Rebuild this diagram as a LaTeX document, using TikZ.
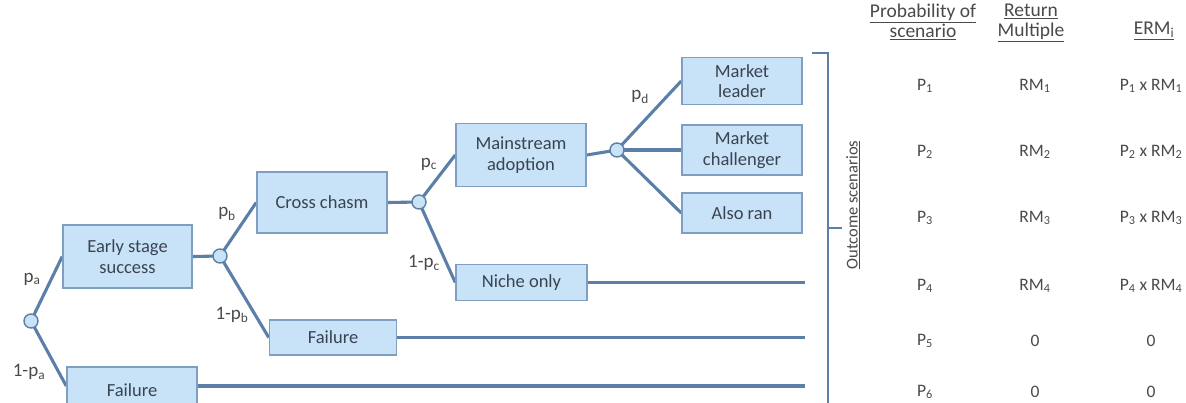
\documentclass[tikz,border=0pt]{standalone}
\usepackage{fontspec}
\setmainfont{Carlito}
\usetikzlibrary{backgrounds}
\definecolor{lineblue}{HTML}{5B7FA6}
\definecolor{boxfill}{HTML}{C8E2F8}
\definecolor{boxedge}{HTML}{7E9EC2}
\definecolor{txt}{HTML}{3A4450}
\definecolor{lbl}{HTML}{4A4A4A}
\begin{document}
\begin{tikzpicture}[x=1pt,y=-1pt,
  stbox/.style={draw=boxedge,line width=1.5pt,fill=boxfill,text=txt,
    font=\fontsize{18.5}{20.5}\selectfont,align=center,inner sep=0pt},
  chance/.style={circle,draw=lineblue,line width=1.4pt,fill=boxfill,minimum size=14pt,inner sep=0pt},
  conn/.style={draw=lineblue,line width=3.1pt},
  plbl/.style={text=lbl,font=\fontsize{19}{21}\selectfont,inner sep=0pt},
  tbl/.style={text=lbl,font=\fontsize{17.5}{20}\selectfont,inner sep=0pt,align=center},
  hdr/.style={text=lbl,font=\fontsize{19.5}{20}\selectfont,inner sep=0pt,align=center}]
\clip (0,0) rectangle (1186,402);
% boxes
\node[stbox,minimum width=129pt,minimum height=63pt] (ess) at (127.5,256.5) {Early stage\\success};
\node[stbox,minimum width=130pt,minimum height=46pt] (f1) at (132,390) {Failure};
\node[stbox,minimum width=130pt,minimum height=61pt] (cc) at (322,202.5) {Cross chasm};
\node[stbox,minimum width=127pt,minimum height=35pt] (f2) at (333,337.5) {Failure};
\node[stbox,minimum width=130pt,minimum height=63pt] (ma) at (521,155) {Mainstream\\adoption};
\node[stbox,minimum width=131pt,minimum height=36pt] (no) at (521.5,282.5) {Niche only};
\node[stbox,minimum width=120pt,minimum height=47pt] (ml) at (742,81) {Market\\leader};
\node[stbox,minimum width=120pt,minimum height=50pt] (mc) at (742,150) {Market\\challenger};
\node[stbox,minimum width=120pt,minimum height=40pt] (ar) at (742,213) {Also ran};
% chance nodes
\node[chance] (c1) at (31,321) {};
\node[chance] (c2) at (220,256) {};
\node[chance] (c3) at (419,202) {};
\node[chance] (c4) at (617,150) {};
% line ends
\coordinate (e4) at (805,282.5);
\coordinate (e5) at (805,337.5);
\coordinate (e6) at (805,386);
\begin{scope}[on background layer]
\fill[white] (0,0) rectangle (1186,402);
\draw[conn] (c1.center) -- (ess.west);
\draw[conn] (c1.center) -- (f1.west |- e6);
\draw[conn] (ess.east) -- (c2.center);
\draw[conn] (c2.center) -- (cc.west);
\draw[conn] (c2.center) -- (f2.west);
\draw[conn] (cc.east) -- (c3.center);
\draw[conn] (c3.center) -- (ma.west);
\draw[conn] (c3.center) -- (no.west);
\draw[conn] (ma.east) -- (c4.center);
\draw[conn] (c4.center) -- (ml.west);
\draw[conn] (c4.center) -- (mc.west);
\draw[conn] (c4.center) -- (ar.west);
\draw[conn] (no.east) -- (e4);
\draw[conn] (f2.east) -- (e5);
\draw[conn] (f1.east |- e6) -- (e6);
\end{scope}
% probability labels
\node[plbl] (la) at (32,279) {p\textsubscript{a}};
\node[plbl] (lna) at (29,372) {1-p\textsubscript{a}};
\node[plbl] (lb) at (227,214) {p\textsubscript{b}};
\node[plbl] (lnb) at (232,315) {1-p\textsubscript{b}};
\node[plbl] (lc) at (429,164) {p\textsubscript{c}};
\node[plbl] (lnc) at (424,263) {1-p\textsubscript{c}};
\node[plbl] (ld) at (640,97) {p\textsubscript{d}};
% bracket
\coordinate (bt) at (812,53);
\coordinate (bc) at (828,53);
\coordinate (bb) at (828,420);
\coordinate (bm) at (828,228);
\coordinate (bmt) at (842,228);
\draw[draw=lineblue,line width=2pt] (bt) -- (bc) -- (bb);
\draw[draw=lineblue,line width=2pt] (bm) -- (bmt);
\node[tbl,rotate=90,font=\fontsize{16.5}{18}\selectfont] (os) at (853,205) {\underline{Outcome scenarios}};
% table headers
\node[hdr] (h1) at (923,22) {\underline{Probability of}\\\underline{scenario}};
\node[hdr] (h2) at (1031,23) {\underline{Return}\\\underline{Multiple}};
\node[hdr] (h3) at (1154,31) {\underline{ERM\textsubscript{i}}};
% rows
\node[tbl] (p1) at (925,86) {P\textsubscript{1}};
\node[tbl] (r1) at (1035,86) {RM\textsubscript{1}};
\node[tbl] (x1) at (1151,86) {P\textsubscript{1} x RM\textsubscript{1}};
\node[tbl] (p2) at (925,152) {P\textsubscript{2}};
\node[tbl] (r2) at (1035,152) {RM\textsubscript{2}};
\node[tbl] (x2) at (1151,152) {P\textsubscript{2} x RM\textsubscript{2}};
\node[tbl] (p3) at (925,218) {P\textsubscript{3}};
\node[tbl] (r3) at (1035,218) {RM\textsubscript{3}};
\node[tbl] (x3) at (1151,218) {P\textsubscript{3} x RM\textsubscript{3}};
\node[tbl] (p4) at (925,286) {P\textsubscript{4}};
\node[tbl] (r4) at (1035,286) {RM\textsubscript{4}};
\node[tbl] (x4) at (1151,286) {P\textsubscript{4} x RM\textsubscript{4}};
\node[tbl] (p5) at (925,341) {P\textsubscript{5}};
\node[tbl] (r5) at (1035,341) {0};
\node[tbl] (x5) at (1151,341) {0};
\node[tbl] (p6) at (925,392) {P\textsubscript{6}};
\node[tbl] (r6) at (1035,392) {0};
\node[tbl] (x6) at (1151,392) {0};
\end{tikzpicture}
\end{document}
